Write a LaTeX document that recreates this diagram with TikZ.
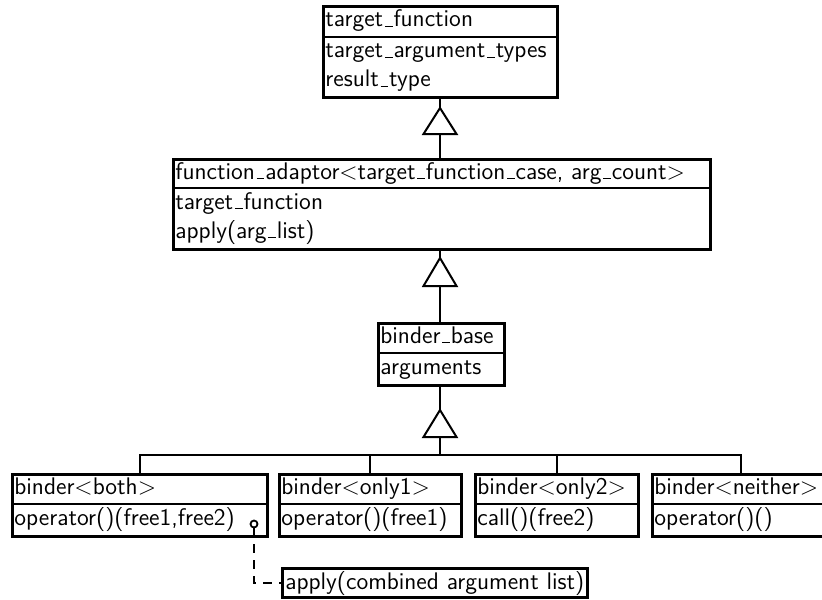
\documentclass[tikz,border=0pt]{standalone}
\begin{document}
% short low rule used for the underscores in identifiers
\newcommand\usc{\leavevmode\kern.07em\vbox{\hrule width.32em height .06em}\kern.04em}
\begin{tikzpicture}[x=0.5pt,y=-0.5pt,
  font=\fontsize{12}{14}\selectfont\sffamily,
  classbox/.style={draw, line width=1.3pt, inner sep=0, anchor=north west},
  member/.style={anchor=base west, inner sep=0},
  rule/.style={line width=1.3pt},
  link/.style={line width=1pt},
  gen/.style={draw, line width=1pt, fill=white, line join=miter},
  pin/.style={draw, circle, inner sep=0, minimum size=3.5pt, line width=0.9pt, fill=white},
  notebox/.style={draw, line width=1.3pt, inner xsep=1.5pt, inner ysep=0,
    minimum height=14.5pt, anchor=west},
  note/.style={link, dash pattern=on 4.5pt off 3.5pt}]
\useasboundingbox (0,0) rectangle (822,599);
\clip (0,0) rectangle (822,599);

% target_function
\node[classbox, minimum width=117pt, minimum height=45.5pt] (tf) at (322,5) {};
\draw[rule] (322,37) -- (556,37);
\node[member] (tf1) at (325,27) {target\usc function};
\node[member] (tf2) at (325,58) {target\usc argument\usc types};
\node[member] (tf3) at (325,87) {result\usc type};

% function_adaptor
\node[classbox, minimum width=268.5pt, minimum height=45pt] (fa) at (172,158) {};
\draw[rule] (172,188) -- (709,188);
\node[member] (fa1) at (175,179) {function\usc adaptor$<$target\usc function\usc case, arg\usc count$>$};
\node[member] (fa2) at (175,209) {target\usc function};
\node[member] (fa3) at (175,238) {apply(arg\usc list)};

% binder_base
\node[classbox, minimum width=63pt, minimum height=31pt] (bb) at (377,322) {};
\draw[rule] (377,353) -- (503,353);
\node[member] (bb1) at (380,343) {binder\usc base};
\node[member] (bb2) at (380,374) {arguments};

% binder specialisations
\node[classbox, minimum width=127.5pt, minimum height=31pt] (b0) at (11,473) {};
\draw[rule] (11,504) -- (266,504);
\node[member] (b0a) at (14,494) {binder$<$both$>$};
\node[member] (b0b) at (14,525) {operator()(free1,free2)};

\node[classbox, minimum width=91pt, minimum height=31pt] (b1) at (278,473) {};
\draw[rule] (278,504) -- (460,504);
\node[member] (b1a) at (281,494) {binder$<$only1$>$};
\node[member] (b1b) at (281,525) {operator()(free1)};

\node[classbox, minimum width=81.5pt, minimum height=31pt] (b2) at (474,473) {};
\draw[rule] (474,504) -- (637,504);
\node[member] (b2a) at (477,494) {binder$<$only2$>$};
\node[member] (b2b) at (477,525) {call()(free2)};

\node[classbox, minimum width=89pt, minimum height=31pt] (b3) at (651,473) {};
\draw[rule] (651,504) -- (829,504);
\node[member] (b3a) at (654,494) {binder$<$neither$>$};
\node[member] (b3b) at (654,525) {operator()()};

% note box
\node[notebox] (ap) at (281,583) {apply(combined argument list)};

% generalisation triangles
\draw[gen] (440,108) coordinate (g1t) -- (456.5,134) -- (423.5,134) -- cycle;
\coordinate (g1b) at (440,134);
\draw[gen] (440,258) coordinate (g2t) -- (456.5,286) -- (423.5,286) -- cycle;
\coordinate (g2b) at (440,286);
\draw[gen] (440,410) coordinate (g3t) -- (456.5,437) -- (423.5,437) -- cycle;
\coordinate (g3b) at (440,437);

% inheritance connectors
\draw[link] (tf.south -| g1t) -- (g1t);
\draw[link] (g1b) -- (g1b |- fa.north);
\draw[link] (fa.south -| g2t) -- (g2t);
\draw[link] (g2b) -- (g2b |- bb.north);
\draw[link] (bb.south -| g3t) -- (g3t);
\coordinate (bar) at (440,455);
\draw[link] (g3b) -- (bar);
\draw[link] (b0.north) |- (bar) -| (b3.north);
\draw[link] (b1.north) -- (b1.north |- bar);
\draw[link] (b2.north) -- (b2.north |- bar);

% note attachment
\node[pin] (pt) at (254,524) {};
\draw[note] (pt.south) |- (ap.west);
\end{tikzpicture}
\end{document}
